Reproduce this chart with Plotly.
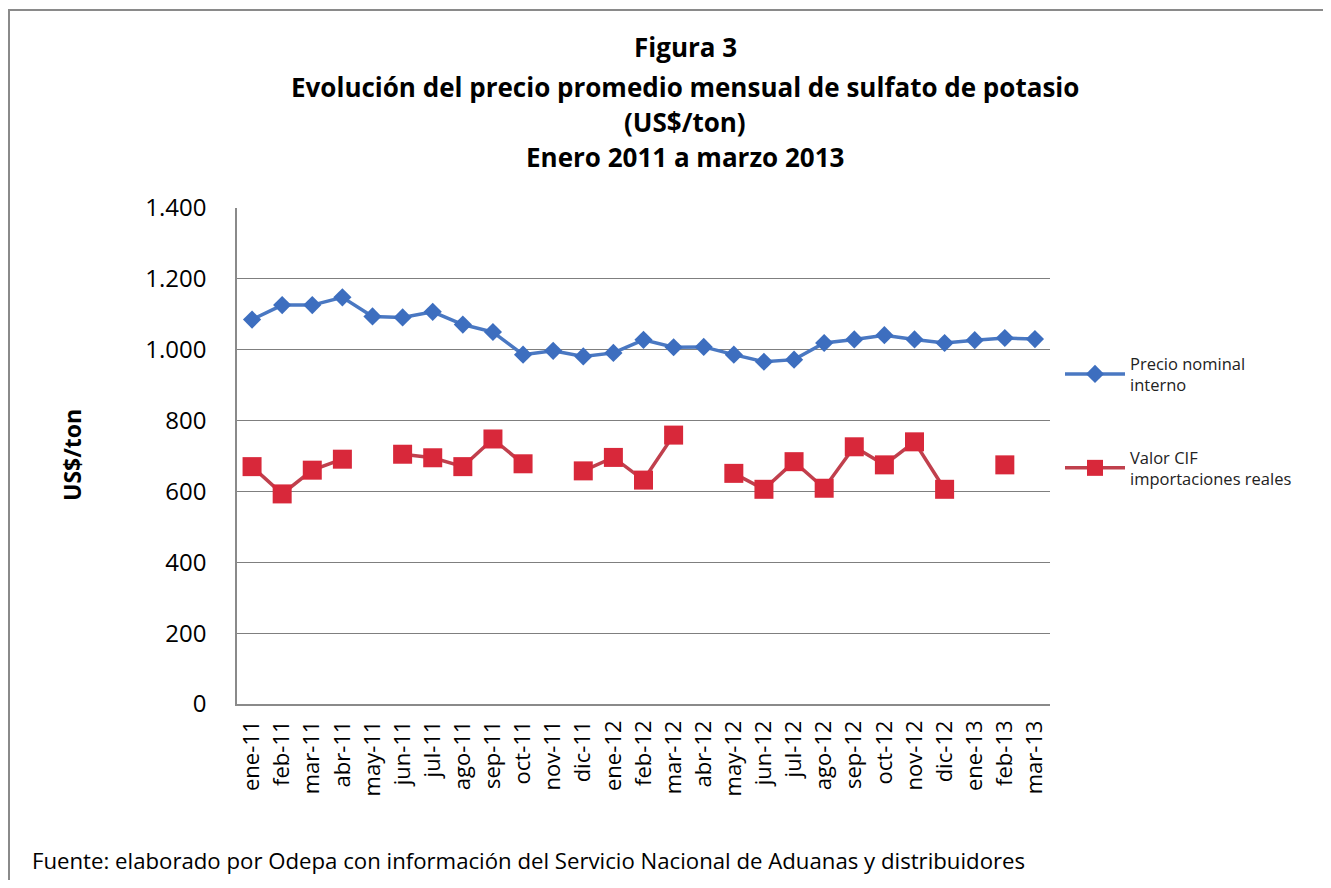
import plotly.graph_objects as go

months = ["ene-11", "feb-11", "mar-11", "abr-11", "may-11", "jun-11", "jul-11", "ago-11", "sep-11",
          "oct-11", "nov-11", "dic-11", "ene-12", "feb-12", "mar-12", "abr-12", "may-12", "jun-12",
          "jul-12", "ago-12", "sep-12", "oct-12", "nov-12", "dic-12", "ene-13", "feb-13", "mar-13"]

precio_nominal = [1085, 1126, 1126, 1148, 1094, 1091, 1107, 1071, 1050,
                  986, 997, 981, 991, 1028, 1007, 1008, 986, 966,
                  972, 1019, 1029, 1041, 1029, 1019, 1027, 1033, 1030]

valor_cif = [670, 593, 660, 691, None, 705, 695, 670, 748,
             678, None, 658, 696, 632, 759, None, 651, 606,
             684, 609, 726, 675, 740, 606, None, 675, None]

OFF = 8  # page body margin in the browser
W, H = 1331 - 2 * OFF, 888 - 2 * OFF
L, R, T, B = 237, 1050, 208, 704  # plot area in reference pixel coords


def px(x):
    return (x - L) / (R - L)


def py(y):
    return (B - y) / (B - T)


fig = go.Figure()
fig.add_trace(go.Scatter(
    x=months, y=precio_nominal, mode="lines+markers",
    name="Precio nominal<br>interno", legendgroup="a",
    line=dict(color="#4A78C2", width=3.5),
    marker=dict(symbol="diamond", size=14, color="#3D6EBF"),
))
fig.add_trace(go.Scatter(
    x=months, y=valor_cif, mode="lines+markers",
    name="Valor CIF<br>importaciones reales", legendgroup="b",
    line=dict(color="#C0404D", width=3.5),
    marker=dict(symbol="square", size=19, color="#D8283A"),
    connectgaps=False,
))

title_font = dict(family="Open Sans", size=26, color="#000000")
titles = [("<b>Figura 3</b>", 47),
          ("<b>Evolución del precio promedio mensual de sulfato de potasio</b>", 87),
          ("<b>(US$/ton)</b>", 122),
          ("<b>Enero 2011 a marzo 2013</b>", 157)]
annotations = []
for txt, ypos in titles:
    annotations.append(dict(text=txt, xref="paper", yref="paper", x=px(685), y=py(ypos),
                            xanchor="center", yanchor="middle", showarrow=False, font=title_font))
annotations.append(dict(text="<b>US$/ton</b>", xref="paper", yref="paper", x=px(72), y=py(455),
                        xanchor="center", yanchor="middle", textangle=-90, showarrow=False,
                        font=dict(family="Open Sans", size=23, color="#000000")))
annotations.append(dict(text="Fuente: elaborado por Odepa con información del Servicio Nacional de Aduanas y distribuidores",
                        xref="paper", yref="paper", x=px(30), y=py(860),
                        xanchor="left", yanchor="middle", showarrow=False,
                        font=dict(family="Open Sans", size=22.2, color="#000000")))

frame_color = "#8A8A8A"
fig.update_layout(
    width=W, height=H,
    margin=dict(l=L - OFF, r=W - (R - OFF), t=T - OFF, b=H - (B - OFF), autoexpand=False),
    paper_bgcolor="white", plot_bgcolor="white",
    separators=",.",
    showlegend=True,
    legend=dict(x=px(1060), y=py(346), xanchor="left", yanchor="top",
                font=dict(family="Open Sans", size=16.5, color="#222222"),
                tracegroupgap=48, bgcolor="rgba(0,0,0,0)", itemwidth=60),
    annotations=annotations,
    shapes=[
        dict(type="line", xref="paper", yref="paper", x0=px(8), x1=px(1345), y0=py(10), y1=py(10),
             line=dict(color=frame_color, width=2), layer="below"),
        dict(type="line", xref="paper", yref="paper", x0=px(9), x1=px(9), y0=py(10), y1=py(890),
             line=dict(color=frame_color, width=2), layer="below"),
    ],
)

fig.update_xaxes(
    type="category", range=[-0.5, 26.5], tickangle=-90,
    showgrid=False, showline=True, linecolor="#8A8A8A", linewidth=1.5,
    ticks="", tickfont=dict(family="Open Sans", size=22, color="#000000"),
    ticklabelstandoff=6,
)
fig.update_yaxes(
    range=[0, 1400], dtick=200, tickformat=",d",
    showgrid=True, gridcolor="#7F7F7F", gridwidth=1,
    showline=True, linecolor="#8A8A8A", linewidth=1.5,
    zeroline=False, ticks="",
    tickfont=dict(family="Open Sans", size=24, color="#000000"),
    ticklabelstandoff=24,
)

fig.write_html("out.html")
